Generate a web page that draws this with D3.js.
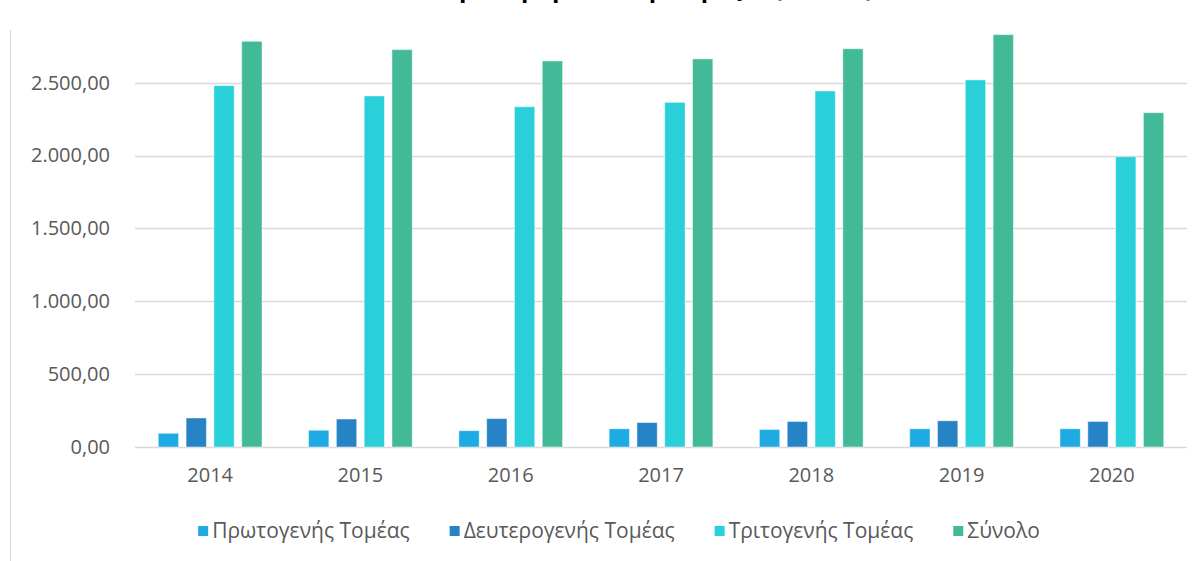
<!DOCTYPE html>
<html>
<head>
<meta charset="utf-8">
<script src="https://cdn.jsdelivr.net/npm/d3@7"></script>
<style>
  body { margin: 0; background: #fff; }
  svg { display: block; font-family: "Open Sans", "Noto Sans", sans-serif; }
</style>
</head>
<body>
<div id="chart"></div>
<script>
// data
var years = ["2014", "2015", "2016", "2017", "2018", "2019", "2020"];
var seriesNames = ["Πρωτογενής Τομέας", "Δευτερογενής Τομέας", "Τριτογενής Τομέας", "Σύνολο"];
var seriesColors = ["#1eaae2", "#2683c6", "#29cfd9", "#43ba97"];
var primary   = [94, 115, 112, 125, 120, 125, 125];
var secondary = [199, 192, 195, 168, 175, 180, 175];
var tertiary  = [2480, 2409, 2335, 2365, 2443, 2519, 1992];
var total     = [2784, 2727, 2649, 2663, 2733, 2830, 2294];
var yTicks = [0, 500, 1000, 1500, 2000, 2500];
var titleText = "Ακαθάριστη Προστιθέμενη Αξία (εκατ. €)";

var W = 1200, H = 561;
var svg = d3.select("#chart").append("svg")
  .attr("width", W).attr("height", H);

// title, cut by the top edge as in the reference
svg.append("text")
  .attr("x", 628).attr("y", -3)
  .attr("text-anchor", "middle")
  .style("font-size", "24px").style("font-weight", "bold")
  .style("fill", "#000")
  .text(titleText);

// left frame line
svg.append("line")
  .attr("x1", 10.5).attr("x2", 10.5).attr("y1", 30).attr("y2", H)
  .attr("stroke", "#d9d9d9");

var margin = {left: 135, right: 13};
var x0 = d3.scaleBand().domain(years)
  .range([margin.left, W - margin.right]).paddingInner(0.31).paddingOuter(0.155);
var x1 = d3.scaleBand().domain(d3.range(4))
  .range([0, x0.bandwidth()]).paddingInner(0.27);
var y = d3.scaleLinear().domain([0, 2500]).range([447, 82.7]);

var fmt = function(v) {
  return d3.format(",.2f")(v).replace(/,/g, "#").replace(/\./g, ",").replace(/#/g, ".");
};

// gridlines
svg.append("g").selectAll("line").data(yTicks).join("line")
  .attr("x1", margin.left).attr("x2", W - margin.right)
  .attr("y1", function(d) { return Math.round(y(d)) + 0.5; })
  .attr("y2", function(d) { return Math.round(y(d)) + 0.5; })
  .attr("stroke", "#d9d9d9").attr("stroke-width", 1.5);

// y axis labels
var yAxis = d3.axisLeft(y).tickValues(yTicks).tickFormat(fmt).tickSize(0).tickPadding(0);
var gy = svg.append("g").attr("transform", "translate(110,0)").call(yAxis);
gy.select(".domain").remove();
gy.selectAll("text").style("font-size", "20px").style("fill", "#595959")
  .style("font-family", "'Open Sans', sans-serif");

// bars
var data = years.map(function(yr, i) {
  return {year: yr, vals: [primary[i], secondary[i], tertiary[i], total[i]]};
});
var groups = svg.append("g").selectAll("g").data(data).join("g")
  .attr("transform", function(d) { return "translate(" + x0(d.year) + ",0)"; });
groups.selectAll("rect").data(function(d) { return d.vals; }).join("rect")
  .attr("x", function(d, i) { return x1(i); })
  .attr("width", x1.bandwidth())
  .attr("y", function(d) { return y(d); })
  .attr("height", function(d) { return y(0) - y(d); })
  .attr("fill", function(d, i) { return seriesColors[i]; })
  .attr("stroke", "#ffffff").attr("stroke-opacity", 0.45).attr("stroke-width", 1);

// x axis labels
var xAxis = d3.axisBottom(x0).tickSize(0).tickPadding(0);
var gx = svg.append("g").attr("transform", "translate(0,468)").call(xAxis);
gx.select(".domain").remove();
gx.selectAll("text").style("font-size", "20px").style("fill", "#595959")
  .style("font-family", "'Open Sans', sans-serif");

// legend
var legend = svg.append("g").attr("transform", "translate(0,531)");
var items = legend.selectAll("g").data(seriesNames).join("g");
items.append("rect")
  .attr("width", 10).attr("height", 10).attr("y", -5)
  .attr("fill", function(d, i) { return seriesColors[i]; });
items.append("text")
  .attr("x", 14).attr("dy", "0.35em")
  .style("font-size", "21px").style("fill", "#595959")
  .text(function(d) { return d; });
var widths = [];
items.each(function() { widths.push(this.getBBox().width); });
var gap = 40;
var totalW = d3.sum(widths) + gap * (widths.length - 1);
var startX = 619 - totalW / 2;
var acc = startX;
items.attr("transform", function(d, i) {
  var t = "translate(" + acc + ",0)";
  acc += widths[i] + gap;
  return t;
});
</script>
</body>
</html>
